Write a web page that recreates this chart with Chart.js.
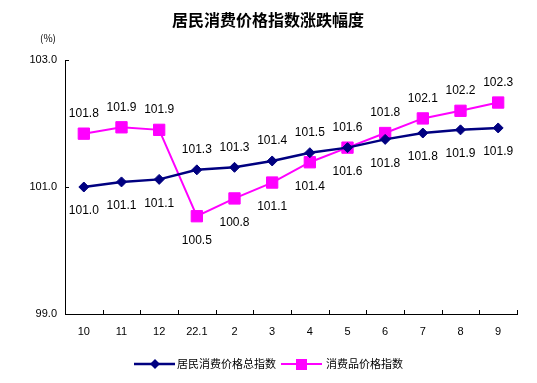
<!DOCTYPE html>
<html>
<head>
<meta charset="utf-8">
<script src="https://cdn.jsdelivr.net/npm/chart.js@4.4.0/dist/chart.umd.min.js"></script>
<style>
html,body{margin:0;padding:0;background:#fff;}
canvas{display:block;}
</style>
</head>
<body>
<canvas id="c" width="537" height="383"></canvas>
<script>
const titleText = '居民消费价格指数涨跌幅度';
const unitText = '(%)';
const categories = ['10', '11', '12', '22.1', '2', '3', '4', '5', '6', '7', '8', '9'];
const cpiLabel = '居民消费价格总指数';
const cpiValues = [101.0, 101.08, 101.12, 101.27, 101.31, 101.41, 101.54, 101.62, 101.75, 101.85, 101.9, 101.93];
const goodsLabel = '消费品价格指数';
const goodsValues = [101.84, 101.94, 101.9, 100.54, 100.82, 101.07, 101.39, 101.62, 101.85, 102.08, 102.2, 102.33];
const yMin = 99.0, yMax = 103.0, yStep = 2.0;
// label placement relative to each point
const cpiPlace = ['below','below','below','above','above','above','above','above','below','below','below','below'];
const goodsPlace = ['above','above','above','below','below','below','below','below','above','above','above','above'];

const BLUE = '#000080', PINK = '#FF00FF';
const numFont = '"Liberation Sans", Arial, sans-serif';
const cjkFont = '"Noto Sans CJK SC", sans-serif';

const decor = {
  id: 'decor',
  afterDraw(chart) {
    const ctx = chart.ctx;
    const ys = chart.scales.y;
    const ca = chart.chartArea;
    ctx.save();
    // inner tick marks
    ctx.strokeStyle = '#000';
    ctx.lineWidth = 1;
    ctx.beginPath();
    const n = categories.length;
    const w = (ca.right - ca.left) / n;
    for (let i = 1; i <= n; i++) {
      const x = Math.round(ca.left + i * w) + 0.5;
      ctx.moveTo(x, ca.bottom);
      ctx.lineTo(x, ca.bottom - 4);
    }
    for (let v = yMin + yStep; v <= yMax + 1e-9; v += yStep) {
      const y = Math.round(ys.getPixelForValue(v)) + 0.5;
      ctx.moveTo(ca.left, y);
      ctx.lineTo(ca.left + 4, y);
    }
    ctx.stroke();
    // title
    ctx.fillStyle = '#000';
    ctx.textAlign = 'center';
    ctx.textBaseline = 'middle';
    ctx.font = 'bold 16px ' + cjkFont;
    ctx.fillText(titleText, 268, 20);
    ctx.font = '10px ' + cjkFont;
    ctx.fillText(unitText, 48, 38);
    // data labels
    ctx.font = '12px ' + numFont;
    const sets = [[0, cpiPlace], [1, goodsPlace]];
    sets.forEach(([di, place]) => {
      const meta = chart.getDatasetMeta(di);
      const vals = chart.data.datasets[di].data;
      meta.data.forEach((pt, i) => {
        const dy = place[i] === 'above' ? -20 : 24;
        ctx.fillText(vals[i].toFixed(1), pt.x, pt.y + dy);
      });
    });
    // legend
    const ly = 364;
    ctx.lineWidth = 2.5;
    ctx.strokeStyle = BLUE;
    ctx.beginPath(); ctx.moveTo(134, ly); ctx.lineTo(175, ly); ctx.stroke();
    ctx.fillStyle = BLUE;
    ctx.beginPath(); ctx.moveTo(155, ly - 5); ctx.lineTo(160, ly); ctx.lineTo(155, ly + 5); ctx.lineTo(150, ly); ctx.closePath(); ctx.fill();
    ctx.lineWidth = 2;
    ctx.strokeStyle = PINK;
    ctx.beginPath(); ctx.moveTo(281, ly); ctx.lineTo(322, ly); ctx.stroke();
    ctx.fillStyle = PINK;
    ctx.fillRect(296, ly - 5, 11, 11);
    ctx.fillStyle = '#000';
    ctx.textAlign = 'left';
    ctx.font = '11px ' + cjkFont;
    ctx.fillText(chart.data.datasets[0].label, 177, ly);
    ctx.fillText(chart.data.datasets[1].label, 326, ly);
    ctx.restore();
  }
};

new Chart(document.getElementById('c'), {
  type: 'line',
  data: {
    labels: categories,
    datasets: [
      {
        label: cpiLabel,
        data: cpiValues,
        borderColor: BLUE,
        backgroundColor: BLUE,
        borderWidth: 2.5,
        pointStyle: 'rectRot',
        pointRadius: 5,
        pointBorderWidth: 1,
        pointBackgroundColor: BLUE,
        pointBorderColor: BLUE,
        tension: 0
      },
      {
        label: goodsLabel,
        data: goodsValues,
        borderColor: PINK,
        backgroundColor: PINK,
        borderWidth: 2,
        pointStyle: 'rect',
        pointRadius: 8,
        pointBorderWidth: 1,
        pointBackgroundColor: PINK,
        pointBorderColor: PINK,
        tension: 0
      }
    ]
  },
  options: {
    responsive: false,
    animation: false,
    devicePixelRatio: 1,
    layout: { padding: { top: 60, right: 20, bottom: 40, left: 0 } },
    plugins: { legend: { display: false }, title: { display: false }, tooltip: { enabled: false } },
    scales: {
      x: {
        offset: true,
        grid: { display: false, drawTicks: false },
        border: { display: true, color: '#000', width: 1 },
        ticks: { color: '#000', font: { size: 11, family: numFont }, padding: 11, maxRotation: 0 },
        afterFit(s) { s.height = 29; }
      },
      y: {
        min: yMin, max: yMax,
        grid: { display: false, drawTicks: false },
        border: { display: true, color: '#000', width: 1 },
        ticks: { stepSize: yStep, color: '#000', font: { size: 11, family: numFont }, padding: 8,
          callback: v => Number(v).toFixed(1) },
        afterFit(s) { s.width = 65; }
      }
    }
  },
  plugins: [decor]
});
</script>
</body>
</html>
